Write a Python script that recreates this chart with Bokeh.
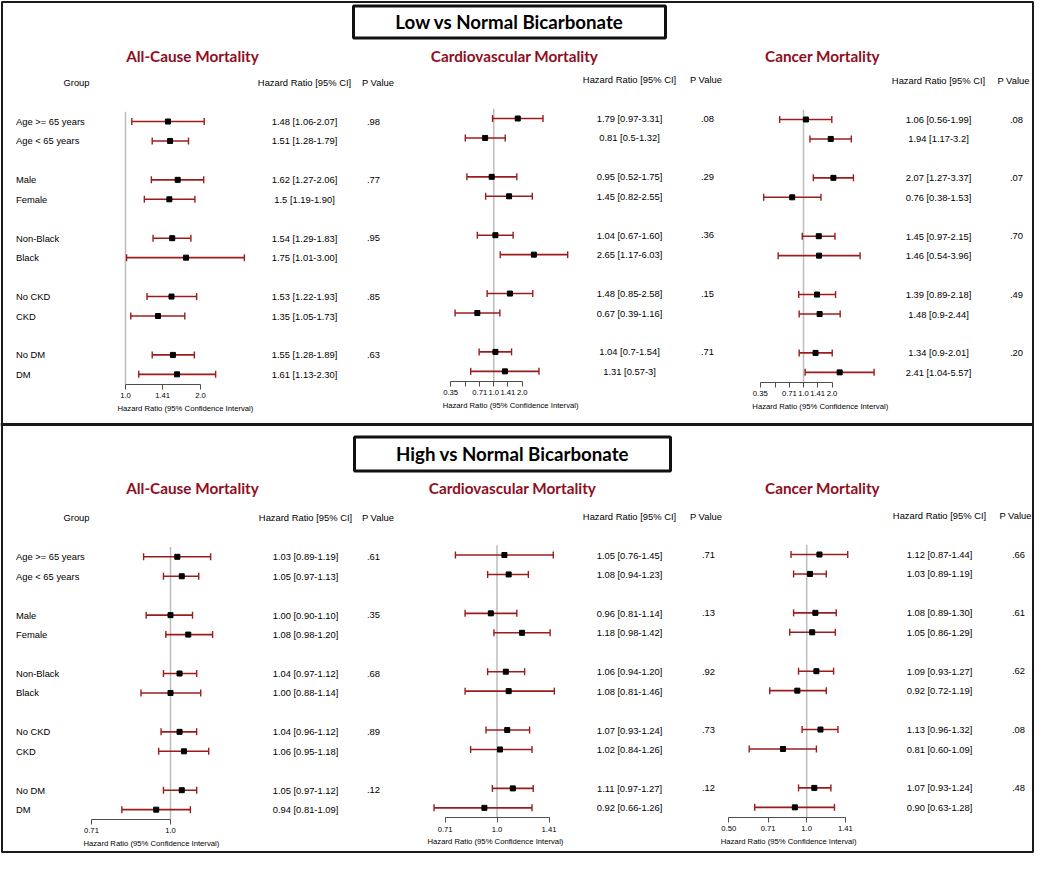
import math
from bokeh.plotting import figure
from bokeh.models import Range1d, LogScale, LogAxis, FixedTicker, ColumnDataSource
from bokeh.core.properties import value
from bokeh.embed import file_html
from bokeh.resources import INLINE

# ---------------- data ----------------
groups = ["Age >= 65 years", "Age < 65 years", "Male", "Female", "Non-Black",
          "Black", "No CKD", "CKD", "No DM", "DM"]
row_pos = [0, 1, 3, 4, 6, 7, 9, 10, 12, 13]
p_rows = [0, 3, 6, 9, 12]

# Low vs Normal Bicarbonate
low_ac_hr = ["1.48", "1.51", "1.62", "1.5", "1.54", "1.75", "1.53", "1.35", "1.55", "1.61"]
low_ac_lo = ["1.06", "1.28", "1.27", "1.19", "1.29", "1.01", "1.22", "1.05", "1.28", "1.13"]
low_ac_hi = ["2.07", "1.79", "2.06", "1.90", "1.83", "3.00", "1.93", "1.73", "1.89", "2.30"]
low_ac_p = [".98", ".77", ".95", ".85", ".63"]

low_cv_hr = ["1.79", "0.81", "0.95", "1.45", "1.04", "2.65", "1.48", "0.67", "1.04", "1.31"]
low_cv_lo = ["0.97", "0.5", "0.52", "0.82", "0.67", "1.17", "0.85", "0.39", "0.7", "0.57"]
low_cv_hi = ["3.31", "1.32", "1.75", "2.55", "1.60", "6.03", "2.58", "1.16", "1.54", "3"]
low_cv_p = [".08", ".29", ".36", ".15", ".71"]

low_ca_hr = ["1.06", "1.94", "2.07", "0.76", "1.45", "1.46", "1.39", "1.48", "1.34", "2.41"]
low_ca_lo = ["0.56", "1.17", "1.27", "0.38", "0.97", "0.54", "0.89", "0.9", "0.9", "1.04"]
low_ca_hi = ["1.99", "3.2", "3.37", "1.53", "2.15", "3.96", "2.18", "2.44", "2.01", "5.57"]
low_ca_p = [".08", ".07", ".70", ".49", ".20"]

# High vs Normal Bicarbonate
high_ac_hr = ["1.03", "1.05", "1.00", "1.08", "1.04", "1.00", "1.04", "1.06", "1.05", "0.94"]
high_ac_lo = ["0.89", "0.97", "0.90", "0.98", "0.97", "0.88", "0.96", "0.95", "0.97", "0.81"]
high_ac_hi = ["1.19", "1.13", "1.10", "1.20", "1.12", "1.14", "1.12", "1.18", "1.12", "1.09"]
high_ac_p = [".61", ".35", ".68", ".89", ".12"]

high_cv_hr = ["1.05", "1.08", "0.96", "1.18", "1.06", "1.08", "1.07", "1.02", "1.11", "0.92"]
high_cv_lo = ["0.76", "0.94", "0.81", "0.98", "0.94", "0.81", "0.93", "0.84", "0.97", "0.66"]
high_cv_hi = ["1.45", "1.23", "1.14", "1.42", "1.20", "1.46", "1.24", "1.26", "1.27", "1.26"]
high_cv_p = [".71", ".13", ".92", ".73", ".12"]

high_ca_hr = ["1.12", "1.03", "1.08", "1.05", "1.09", "0.92", "1.13", "0.81", "1.07", "0.90"]
high_ca_lo = ["0.87", "0.89", "0.89", "0.86", "0.93", "0.72", "0.96", "0.60", "0.93", "0.63"]
high_ca_hi = ["1.44", "1.19", "1.30", "1.29", "1.27", "1.19", "1.32", "1.09", "1.24", "1.28"]
high_ca_p = [".66", ".61", ".62", ".08", ".48"]

ticks_low_ac = [1.0, 1.41, 2.0]
tick_labels_low_ac = ["1.0", "1.41", "2.0"]
ticks_low_cv = [0.35, 0.5, 0.71, 1.0, 1.41, 2.0]
tick_labels_low_cv = ["0.35", "", "0.71", "1.0", "1.41", "2.0"]
ticks_low_ca = [0.35, 0.5, 0.71, 1.0, 1.41, 2.0]
tick_labels_low_ca = ["0.35", "", "0.71", "1.0", "1.41", "2.0"]
ticks_high_ac = [0.71, 1.0]
tick_labels_high_ac = ["0.71", "1.0"]
ticks_high_cv = [0.71, 1.0, 1.41]
tick_labels_high_cv = ["0.71", "1.0", "1.41"]
ticks_high_ca = [0.50, 0.71, 1.0, 1.41]
tick_labels_high_ca = ["0.50", "0.71", "1.0", "1.41"]

section_titles = ["Low vs Normal Bicarbonate", "High vs Normal Bicarbonate"]
panel_titles = ["All-Cause Mortality", "Cardiovascular Mortality", "Cancer Mortality"]

# ---------------- style / layout ----------------
ARIAL = "Liberation Sans"
TITLE_FONT = "Lato"
CI_COLOR = "#9c1c1c"
TITLE_RED = "#8e0f1e"
SY = 19.45  # pixels per row unit
W, H = 1034, 853
DY = [-3, -7]  # vertical nudge of the two sections so everything fits the canvas

p = figure(width=W, height=H, x_range=Range1d(0, W), y_range=Range1d(H, 0),
           x_axis_location=None, y_axis_location=None, toolbar_location=None,
           output_backend="svg", min_border=0)
p.outline_line_color = None
p.background_fill_color = "white"
p.border_fill_color = "white"
p.grid.grid_line_color = None
p.grid.visible = False


def txt(xs, ys, ss, size, font=ARIAL, bold=False, color="black", align="center",
        xr="default", yr="default", x_off=0, y_off=0):
    src = ColumnDataSource(dict(x=list(xs), y=list(ys), t=list(ss)))
    p.text(x="x", y="y", text="t", source=src, text_font=value(font),
           text_font_size=size, text_font_style="bold" if bold else "normal",
           text_color=color, text_align=align, text_baseline="middle",
           x_range_name=xr, y_range_name=yr, x_offset=x_off, y_offset=y_off)


# outer border and divider
p.quad(left=[1.5], right=[W - 1.5], top=[1.5], bottom=[H - 1.5], fill_color=None,
       line_color="#1a1a1a", line_width=2)
p.segment(x0=[0], x1=[W], y0=[430 + DY[1] + 1], y1=[430 + DY[1] + 1],
          line_color="#1a1a1a", line_width=3)

# section title boxes
box_cx = [509, 512]
box_cy = [24.5 + DY[0], 460.5 + DY[1]]
box_w = [312, 316]
box_h = [32, 34]
p.rect(x=box_cx, y=box_cy, width=box_w, height=box_h, fill_color="white",
       line_color="#111111", line_width=3)
txt(box_cx, box_cy, section_titles, "18.7px", font=TITLE_FONT, bold=True)

panels = [
    dict(key="low_ac", hr=low_ac_hr, lo=low_ac_lo, hi=low_ac_hi, pv=low_ac_p,
         ticks=ticks_low_ac, labels=tick_labels_low_ac, title=panel_titles[0],
         x1=125, s=75, y0=124 + DY[0], title_xy=(192, 58 + DY[0]), hr_x=304, p_x=373,
         hp_x=377.5, lab_dx=-8, group=True),
    dict(key="low_cv", hr=low_cv_hr, lo=low_cv_lo, hi=low_cv_hi, pv=low_cv_p,
         ticks=ticks_low_cv, labels=tick_labels_low_cv, title=panel_titles[1],
         x1=493.3, s=28.5, y0=121 + DY[0], title_xy=(514, 58 + DY[0]), hr_x=629, p_x=707,
         hp_x=705.5, lab_dx=-8, group=False),
    dict(key="low_ca", hr=low_ca_hr, lo=low_ca_lo, hi=low_ca_hi, pv=low_ca_p,
         ticks=ticks_low_ca, labels=tick_labels_low_ca, title=panel_titles[2],
         x1=803, s=28.5, y0=122 + DY[0], title_xy=(822, 58 + DY[0]), hr_x=938, p_x=1016,
         hp_x=1013, lab_dx=-8, group=False),
    dict(key="high_ac", hr=high_ac_hr, lo=high_ac_lo, hi=high_ac_hi, pv=high_ac_p,
         ticks=ticks_high_ac, labels=tick_labels_high_ac, title=panel_titles[0],
         x1=170, s=160, y0=563.3 + DY[1], title_xy=(192, 494 + DY[1]), hr_x=305, p_x=373,
         hp_x=377.5, lab_dx=-8, group=True),
    dict(key="high_cv", hr=high_cv_hr, lo=high_cv_lo, hi=high_cv_hi, pv=high_cv_p,
         ticks=ticks_high_cv, labels=tick_labels_high_cv, title=panel_titles[1],
         x1=496.5, s=105, y0=561.5 + DY[1], title_xy=(512, 494 + DY[1]), hr_x=629, p_x=708,
         hp_x=705.5, lab_dx=-17.6, group=False),
    dict(key="high_ca", hr=high_ca_hr, lo=high_ca_lo, hi=high_ca_hi, pv=high_ca_p,
         ticks=ticks_high_ca, labels=tick_labels_high_ca, title=panel_titles[2],
         x1=806.2, s=78, y0=561 + DY[1], title_xy=(822, 494 + DY[1]), hr_x=939, p_x=1018,
         hp_x=1015, lab_dx=-8, group=False),
]

for P in panels:
    xr = "x_" + P["key"]
    yr = "y_" + P["key"]
    x1, s, y0 = P["x1"], P["s"], P["y0"]
    p.extra_x_ranges[xr] = Range1d(2 ** ((0 - x1) / s), 2 ** ((W - x1) / s))
    p.extra_x_scales[xr] = LogScale()
    p.extra_y_ranges[yr] = Range1d((H - y0) / SY, (0 - y0) / SY)

    hr = [float(v) for v in P["hr"]]
    lo = [float(v) for v in P["lo"]]
    hi = [float(v) for v in P["hi"]]
    src = ColumnDataSource(dict(k=row_pos, hr=hr, lo=lo, hi=hi))

    # reference line at HR = 1
    p.segment(x0=[1.0], x1=[1.0], y0=[-0.5], y1=[13.5], line_color="#bdbdbd",
              line_width=1.5, x_range_name=xr, y_range_name=yr)
    # confidence intervals with caps
    p.segment(x0="lo", x1="hi", y0="k", y1="k", source=src, line_color=CI_COLOR,
              line_width=1.6, x_range_name=xr, y_range_name=yr)
    for col in ("lo", "hi"):
        p.scatter(x=col, y="k", source=src, marker="dash", angle=math.pi / 2, size=7,
                  line_color=CI_COLOR, line_width=1.4, x_range_name=xr, y_range_name=yr)
    p.scatter(x="hr", y="k", source=src, marker="square", size=5, fill_color="black",
              line_color="black", line_width=1, x_range_name=xr, y_range_name=yr)

    # axis (library axis, fixed inside the frame under the rows)
    overrides = {}
    for t, lab in zip(P["ticks"], P["labels"]):
        overrides[float(t)] = lab
        overrides["%g" % t] = lab
    ax = LogAxis(x_range_name=xr, y_range_name=yr, fixed_location=13.5,
                 bounds=(P["ticks"][0], P["ticks"][-1]),
                 ticker=FixedTicker(ticks=P["ticks"], minor_ticks=[]),
                 major_label_overrides=overrides,
                 major_tick_out=5, major_tick_in=0, minor_tick_out=0, minor_tick_in=0,
                 axis_line_color="#4d4d4d", major_tick_line_color="#4d4d4d",
                 axis_line_width=1, major_label_standoff=4,
                 major_label_text_font=ARIAL, major_label_text_font_size="7.7px",
                 major_label_text_color="black")
    p.add_layout(ax, "below")
    txt([P["ticks"][0]], [13.5], ["Hazard Ratio (95% Confidence Interval)"], "7.7px",
        align="left", xr=xr, yr=yr, x_off=P["lab_dx"], y_off=24)

    # text columns
    labels = ["%s [%s-%s]" % (a, b, c) for a, b, c in zip(P["hr"], P["lo"], P["hi"])]
    txt([P["hr_x"]] * len(labels), row_pos, labels, "9.4px", yr=yr)
    txt([P["p_x"]] * len(P["pv"]), p_rows, P["pv"], "9.4px", yr=yr)
    txt([P["hr_x"], P["hp_x"]], [-2, -2], ["Hazard Ratio [95% CI]", "P Value"], "9.4px", yr=yr)
    if P["group"]:
        txt([15.5] * len(groups), row_pos, groups, "9.4px", align="left", yr=yr)
        txt([76], [-2], ["Group"], "9.4px", yr=yr)

    # panel title
    txt([P["title_xy"][0]], [P["title_xy"][1]], [P["title"]], "15.3px", font=TITLE_FONT,
        bold=True, color=TITLE_RED)

open("out.html", "w").write(file_html(p, INLINE))
